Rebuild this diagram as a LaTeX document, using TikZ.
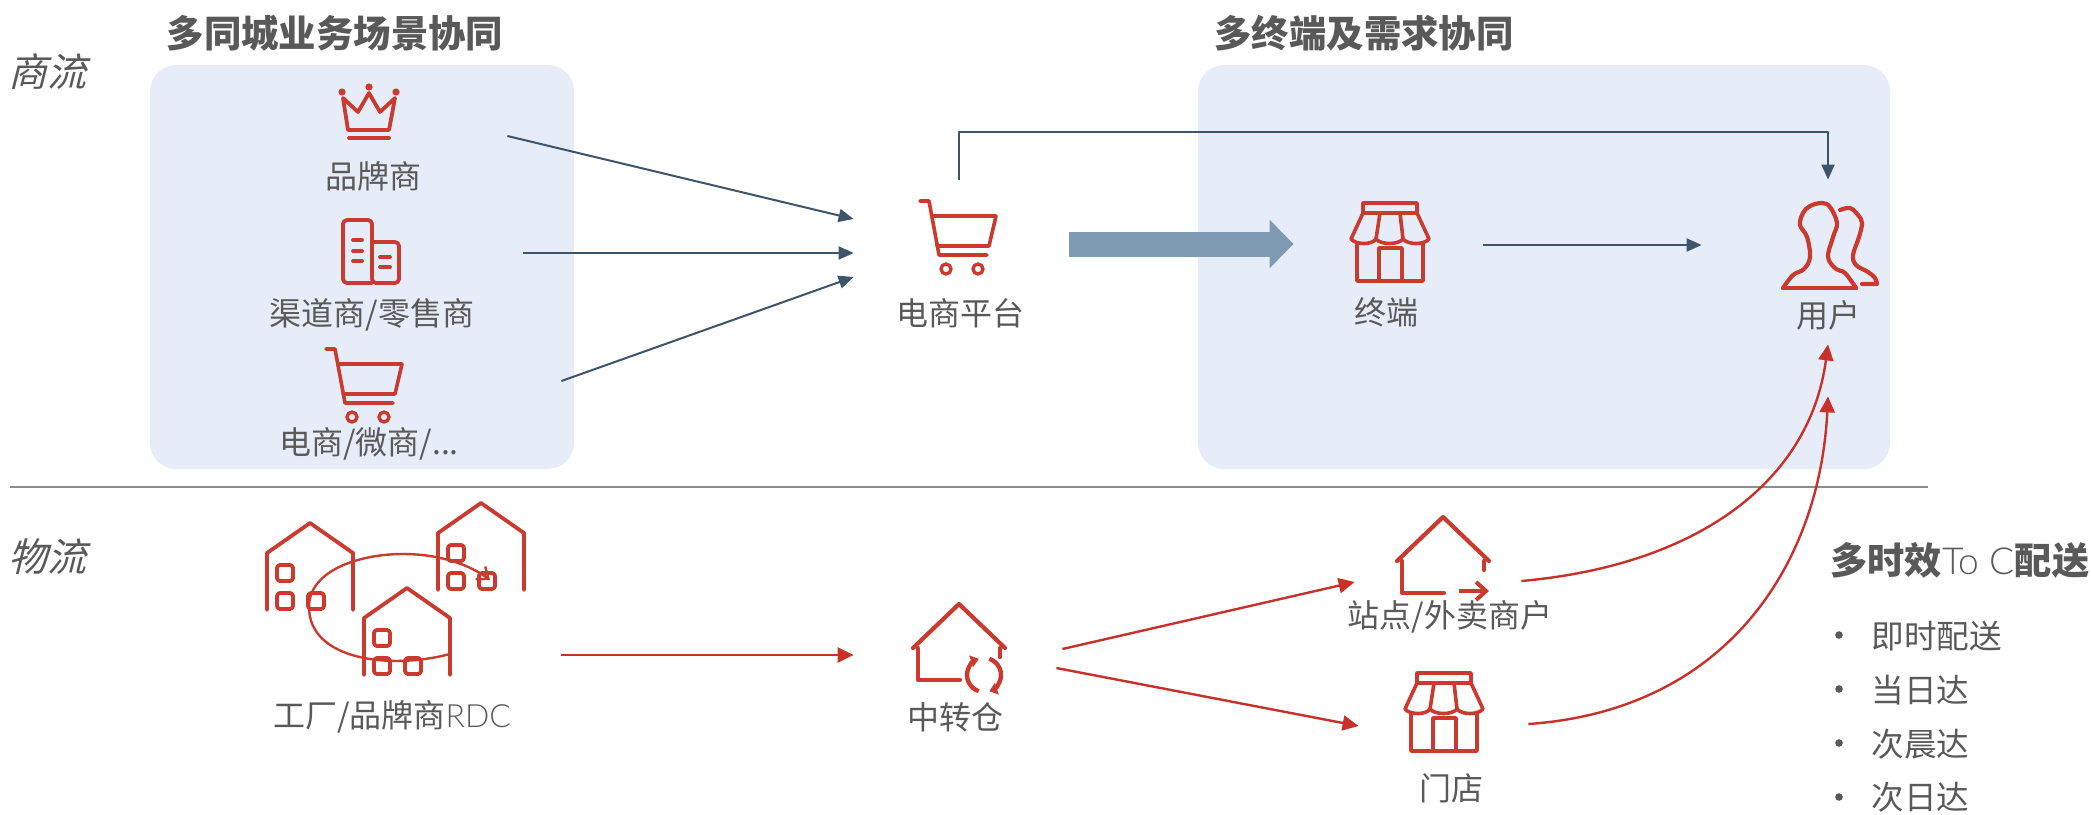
\documentclass[tikz,border=0pt]{standalone}
\usepackage{fontspec}
\setmainfont{Noto Sans CJK SC}
\newfontfamily\slantfont[FakeSlant=0.25]{Noto Sans CJK SC}
\newfontfamily\thinfont{Lato Light}
\usetikzlibrary{arrows.meta,calc,positioning}
\definecolor{panelblue}{HTML}{E7EDF8}
\definecolor{iconred}{HTML}{CB3A2E}
\definecolor{linkred}{HTML}{C9302A}
\definecolor{linknavy}{HTML}{3E546A}
\definecolor{flowblue}{HTML}{7F9AB3}
\definecolor{labelgray}{HTML}{595959}

\begin{document}
\begin{tikzpicture}[x=0.5pt, y=-0.5pt, node distance = 20pt, line join=round]
        \tikzstyle{panel} = [rectangle, fill=panelblue, rounded corners=13pt, inner sep=0pt]
        \tikzstyle{iconbox} = [rectangle, minimum width=40pt, minimum height=40pt, inner sep=0pt]
        \tikzstyle{icon} = [draw=iconred, line width=1.9pt, line cap=round]
        \tikzstyle{label} = [text=labelgray, font=\fontsize{16pt}{18pt}\selectfont, inner sep=0pt]
        \tikzstyle{heading} = [text=labelgray, font=\fontsize{18.7pt}{22pt}\selectfont\bfseries, inner sep=0pt]
        \tikzstyle{side} = [text=labelgray, font=\fontsize{19.5pt}{22pt}\selectfont\slantfont, inner sep=0pt]
        \tikzstyle{navyarrow} = [draw=linknavy, line width=1pt, -{Triangle[length=7.5pt,width=6.5pt]}]
        \tikzstyle{redarrow} = [draw=linkred, line width=1.2pt, -{Triangle[length=8pt,width=7.5pt]}]
        \tikzstyle{listitem} = [label, anchor=west, font=\fontsize{16.3pt}{18pt}\selectfont]
        \tikzstyle{listdot} = [circle, fill=labelgray, minimum size=3.8pt, inner sep=0pt]
        \tikzset{
          crown/.pic={
            \draw[icon] (-26,-17) -- (-11,-3) -- (0,-22) -- (11,-3) -- (26,-17) -- (20,15) -- (-21,15) -- cycle;
            \draw[icon] (-20,23) -- (20,23);
            \fill[iconred] (-27,-23) circle (3.6) (0,-28) circle (3.6) (27,-23) circle (3.6);
          },
          towers/.pic={
            \draw[icon, rounded corners=2pt] (1,31) -- (-28,31) -- (-28,-32) -- (1,-32) -- (1,31) -- (28,31) -- (28,-10) -- (1,-10);
            \draw[icon] (-18,-12) -- (-9,-12) (-18,-1) -- (-9,-1) (-18,9) -- (-9,9);
            \draw[icon] (9,5) -- (19,5) (9,15) -- (19,15);
          },
          trolley/.pic={
            \draw[icon, line width=1.8pt] (-38,-34) -- (-29,-34) -- (-19,20) -- (29,20);
            \draw[icon, line width=1.8pt] (-25,-19) -- (38,-19) -- (31,11) -- (-21,11);
            \draw[icon, line width=1.7pt] (-12,34) circle (5) (20,34) circle (5);
          },
          shopfront/.pic={
            \draw[icon, line width=1.8pt] (-27,-39) rectangle (27,-29);
            \draw[icon, line width=1.8pt] (-27,-29) -- (-39,-3)
              .. controls (-34,3) and (-18,3) .. (-14,-3)
              .. controls (-9,3) and (8,3) .. (13,-3)
              .. controls (18,3) and (34,3) .. (39,-3) -- (27,-29);
            \draw[icon, line width=1.8pt] (-10,-29) -- (-14,-3) (10,-29) -- (13,-3);
            \draw[icon, line width=1.8pt] (-33,1) -- (-33,39) -- (33,39) -- (33,1);
            \draw[icon, line width=1.8pt] (-11,39) -- (-11,6) -- (12,6) -- (12,39);
          },
          people/.pic={
            \draw[icon, line width=2.1pt] (-47,43) -- (26,43);
            \draw[icon, line width=2.1pt] plot[smooth, tension=0.6] coordinates {(26,43) (15,28) (6,24) (-2,12) (3,-8) (7,-22) (0,-38) (-8,-42) (-20,-39) (-27,-32) (-30,-20) (-23,-8) (-20,12) (-26,24) (-37,30) (-47,43)};
            \draw[icon, line width=2.1pt] plot[smooth, tension=0.6] coordinates {(10,-35) (20,-37) (28,-30) (32,-22) (29,-8) (23,10) (26,20) (38,27) (45,33) (47,39)} -- (32,39);
          },
          factory/.pic={
            \draw[icon] (-43,87) -- (-43,30) -- (0,0) -- (43,30) -- (43,87);
            \draw[icon, rounded corners=1.5pt] (-33,42) rectangle (-17,58) (-33,70) rectangle (-17,86) (-2,70) rectangle (14,86);
          },
          depot/.pic={
            \draw[icon, line width=2.1pt] (-46,6) -- (0,-38) -- (46,6);
            \draw[icon, line width=2.1pt] (-41,6) -- (-41,38) -- (1,38);
            \draw[icon, line width=2.1pt] (41,6) -- (41,15);
          }
        }
        \useasboundingbox (0,0) rectangle (2091,814);
        \node[panel, minimum width=212pt, minimum height=202pt] (sources) at (362,267) {};
        \node[panel, minimum width=346pt, minimum height=202pt] (demand) at (1544,267) {};
        \node[heading] (sourcestitle) at (335,33) {多同城业务场景协同};
        \node[heading] (demandtitle) at (1364,33) {多终端及需求协同};
        \node[side] (trade) at (48,72) {商流};
        \node[side] (logistics) at (48,557) {物流};
        \draw[draw=black!45, line width=0.6pt] (10,487) -- (1928,487);

        \node[iconbox] (brand) at (369,115) {};
        \pic at (brand) {crown};
        \node[label] (brandlabel) at (373,176) {品牌商};
        \node[iconbox] (channel) at (371,252) {};
        \pic at (channel) {towers};
        \node[label] (channellabel) at (372,315) {渠道商/零售商};
        \node[iconbox] (ecom) at (364,383) {};
        \pic at (ecom) {trolley};
        \node[label] (ecomlabel) at (369,444) {电商/微商/...};

        \node[iconbox] (platform) at (958,235) {};
        \pic at (platform) {trolley};
        \node[label] (platformlabel) at (960,313) {电商平台};
        \node[iconbox] (store) at (1390,242) {};
        \pic at (store) {shopfront};
        \node[label] (storelabel) at (1386,312) {终端};
        \node[iconbox] (users) at (1830,245) {};
        \pic at (users) {people};
        \node[label] (userslabel) at (1828,315) {用户};

        \node[iconbox] (rdc) at (395,590) {};
        \pic at (310,523) {factory};
        \pic at (481,503) {factory};
        \pic at (407,588) {factory};
        \draw[draw=iconred, line width=1.2pt, -{Straight Barb[length=5pt,width=8pt]}] (450,654) .. controls (390,670) and (309,660) .. (309,607) .. controls (309,570) and (360,554) .. (403,554) .. controls (440,554) and (470,565) .. (490,580);
        \node[label] (rdclabel) at (392,717) {工厂/品牌商{\thinfont RDC}};
        \node[iconbox] (hub) at (959,642) {};
        \pic at (hub) {depot};
        \draw[icon, line width=2.2pt, line cap=butt, -{Triangle[length=4pt,width=6pt]}] ([shift={(984,675)}]108:17) arc (108:252:17);
        \draw[icon, line width=2.2pt, line cap=butt, -{Triangle[length=4pt,width=6pt]}] ([shift={(984,675)}]-72:17) arc (-72:72:17);
        \node[label] (hublabel) at (955,717) {中转仓};
        \node[iconbox] (site) at (1443,555) {};
        \pic at (site) {depot};
        \draw[draw=iconred, line width=2pt, -{Straight Barb[length=5pt,width=9pt]}] ($(site)+(16,36)$) -- ($(site)+(46,36)$);
        \node[label] (sitelabel) at (1450,617) {站点/外卖商户};
        \node[iconbox] (outlet) at (1444,712) {};
        \pic at (outlet) {shopfront};
        \node[label] (outletlabel) at (1451,788) {门店};

        \path[navyarrow] ($(brand.east)+(98,21)$) -- ($(platform.west)+(-64,-16)$);
        \path[navyarrow] ($(channel.east)+(112,1)$) -- ($(platform.west)+(-64,18)$);
        \path[navyarrow] ($(ecom.east)+(157,-2)$) -- ($(platform.west)+(-64,42)$);
        \path[navyarrow] ($(platform.north)+(1,-15)$) -- ++(0,-48) -| ($(users.north)+(-2,-25)$);
        \path[navyarrow] ($(store.east)+(53,3)$) -- ($(users.west)+(-88,0)$);
        \draw[flowblue, line width=12.5pt, -{Triangle[length=12pt,width=23.5pt]}] ($(platform.east)+(71,9)$) -- ($(store.west)+(-56,2)$);

        \path[redarrow] ($(rdc.east)+(126,65)$) -- ($(hub.west)+(-65,13)$);
        \path[redarrow] ($(hub.east)+(63,7)$) -- ($(site.west)+(-48,27)$);
        \path[redarrow] ($(hub.east)+(57,26)$) -- ($(outlet.west)+(-45,14)$);
        \path[redarrow] ($(site.east)+(38,26)$) .. controls (1700,565) and (1810,480) .. ($(users.south)+(-2,59)$);
        \path[redarrow] ($(outlet.east)+(44,12)$) .. controls (1730,710) and (1820,560) .. ($(users.south)+(-2,111)$);

        \node[heading, anchor=west, font=\fontsize{18.6pt}{22pt}\selectfont\bfseries] (modes) at (1830,560) {多时效{\thinfont\mdseries To C}配送};
        \node[listdot] (instantdot) at (1839,635) {};
        \node[listitem] (instant) at (1871,636) {即时配送};
        \node[listdot] (samedaydot) at (1839,689) {};
        \node[listitem] (sameday) at (1871,690) {当日达};
        \node[listdot] (morningdot) at (1839,743) {};
        \node[listitem] (morning) at (1871,744) {次晨达};
        \node[listdot] (nextdaydot) at (1839,797) {};
        \node[listitem] (nextday) at (1871,797) {次日达};
      \end{tikzpicture}
\end{document}
